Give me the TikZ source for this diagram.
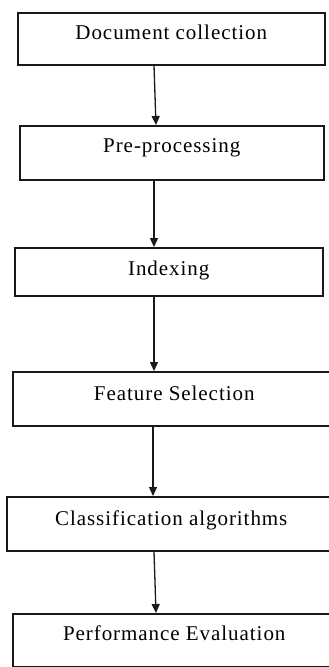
\documentclass[tikz,border=0pt]{standalone}
\usepackage{fontspec}
\setmainfont{Liberation Serif}[LetterSpace=4.5]
\usetikzlibrary{arrows.meta}

\begin{document}
\begin{tikzpicture}[x=1pt,y=-1pt,
  stage/.style={draw=black!90, line width=1.5pt, rectangle, inner sep=0pt,
    anchor=north west, font=\fontsize{21}{25}\selectfont},
  flow/.style={draw=black!90, line width=1.3pt, -{Triangle[width=8pt,length=9pt]}}]
\useasboundingbox[fill=white] (0,0) rectangle (329,667);

% pipeline stages (text sits in the upper part of each box)
\node[stage, minimum width=307, minimum height=52, text height=26.5, text depth=25.5] (doc) at (17,12) {Document collection};
\node[stage, minimum width=304, minimum height=54, text height=27, text depth=27] (pre) at (19,125) {Pre-processing};
\node[stage, minimum width=308, minimum height=48, text height=28, text depth=20] (idx) at (14,247) {Indexing};
\node[stage, minimum width=323, minimum height=54, text height=29, text depth=25] (fs) at (12,371) {Feature Selection};
\node[stage, minimum width=329, minimum height=54, text height=29, text depth=25] (cls) at (6,496) {Classification algorithms};
\node[stage, minimum width=323, minimum height=53, text height=27, text depth=26] (perf) at (12,613) {Performance Evaluation};

% x positions of the connectors
\coordinate (a1) at (154,0);
\coordinate (b1) at (156,0);
\coordinate (a2) at (154,0);
\coordinate (a3) at (154,0);
\coordinate (a4) at (153,0);
\coordinate (a5) at (154,0);
\coordinate (b5) at (156,0);

\draw[flow] (doc.south -| a1) -- (pre.north -| b1);
\draw[flow] (pre.south -| a2) -- (idx.north -| a2);
\draw[flow] (idx.south -| a3) -- (fs.north -| a3);
\draw[flow] (fs.south -| a4) -- (cls.north -| a4);
\draw[flow] (cls.south -| a5) -- (perf.north -| b5);
\end{tikzpicture}
\end{document}
